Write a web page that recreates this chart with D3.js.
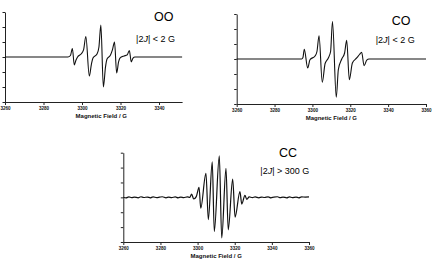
<!DOCTYPE html>
<html>
<head>
<meta charset="utf-8">
<script src="https://cdn.jsdelivr.net/npm/d3@7"></script>
<style>
  body { margin: 0; background: #fff; }
  svg { display: block; font-family: "Liberation Sans", Arial, sans-serif; }
  .axis path, .axis line { stroke: #222; stroke-width: 1; }
  .axis text { fill: #111; font-size: 4.6px; font-weight: bold; }
</style>
</head>
<body>
<div class="chart"></div>
<script>
var width = 432,
    height = 264;

// tick values
var fieldTicks = [3260, 3280, 3300, 3320, 3340, 3360];
var ampTicks = [-3, -2, -1, 0, 1, 2, 3];

var panelNames = ["OO", "CO", "CC"];
var couplingText = ["< 2 G", "< 2 G", "> 300 G"];

// spectra: field (G) and signal (arb. units)
var ooField = [3260, 3292.7, 3294.0, 3295.0, 3296.0, 3296.9, 3297.7, 3299.5, 3300.8, 3302.0,
  3303.8, 3304.9, 3305.7, 3307.8, 3308.8, 3309.8, 3311.1, 3312.2, 3313.0, 3314.8,
  3315.8, 3316.9, 3318.0, 3319.0, 3319.7, 3321.8, 3323.4, 3324.6, 3325.6, 3326.5,
  3327.5, 3352];
var ooSignal = [0, 0, 0.1, 0.57, -0.53, -0.2, 0, 0.2, 0.47, 1.37,
  -1.27, -0.47, -0.07, 0.2, 0.67, 2.13, -2.0, -0.67, -0.13, 0.13,
  0.47, 1.0, -1.07, -0.33, -0.07, 0.07, 0.13, 0.43, -0.33, -0.07,
  0, 0];

var coField = [3260, 3294.3, 3295.0, 3295.7, 3297.5, 3298.7, 3301.4, 3302.4, 3303.5, 3305.2,
  3306.7, 3308.4, 3309.6, 3310.6, 3312.6, 3313.7, 3315.5, 3317.0, 3318.1, 3319.5,
  3321.1, 3323.4, 3324.9, 3326.0, 3327.3, 3328.7, 3329.9, 3360];
var coSignal = [0, 0, 0.1, 0.65, -0.6, -0.05, 0.2, 0.5, 1.55, -1.55,
  -0.3, 0.07, 0.5, 2.5, -2.55, -0.7, 0, 0.4, 1.25, -1.38,
  -0.27, 0.07, 0.3, 0.45, -0.45, -0.07, 0, 0];

var ccField = [3260, 3261.5, 3263, 3264.5, 3266, 3268, 3269.5, 3271, 3273, 3274.5,
  3276, 3278, 3279.5, 3281, 3283, 3284.5, 3286, 3288, 3289.5, 3291,
  3292.5, 3294.5, 3295.8, 3296.8, 3297.9, 3299.3,
  3300.8, 3301.7, 3304.5, 3305.8, 3307.9, 3309.0, 3311.7, 3313.0, 3315.3, 3316.5,
  3318.9, 3320.2, 3322.8, 3323.8, 3325.5, 3326.5, 3327.8, 3329.5, 3331, 3333,
  3334.5, 3336, 3338, 3339.5, 3341, 3343, 3344.5, 3346, 3348, 3349.5,
  3351, 3353, 3354.5, 3356, 3358, 3360];
var ccSignal = [0.01, -0.03, 0.03, -0.02, 0.02, -0.03, 0.04, -0.01, 0.02, -0.03,
  0.03, -0.02, 0.01, 0.04, -0.03, 0.02, -0.02, 0.03, -0.03, 0.02,
  -0.02, 0.03, 0, 0.22, -0.11, 0.05,
  0.67, -0.73, 1.62, -1.49, 2.38, -2.29, 2.78, -2.73, 1.95, -2.18,
  1.22, -1.33, 0.38, -0.45, 0.13, -0.13, 0.03, -0.02, 0.03, -0.03,
  0.02, -0.01, 0.03, -0.03, 0.02, 0.04, -0.02, 0.02, -0.03, 0.03,
  -0.02, 0.02, -0.03, 0.03, 0.02, 0.03];

var svg = d3.select(".chart").append("svg")
    .attr("width", width)
    .attr("height", height);

var panels = [
  {field: ooField, signal: ooSignal, fmax: 3352, x0: 5, x1: 182.1, yTop: 12, yBot: 102,
   nameX: 173.5, nameY: 21, jX: 175, jY: 41.5, sw: 1.1},
  {field: coField, signal: coSignal, fmax: 3360, x0: 236.7, x1: 426, yTop: 14, yBot: 104,
   nameX: 410.5, nameY: 25, jX: 414.7, jY: 42.5, sw: 1.1},
  {field: ccField, signal: ccSignal, fmax: 3360, x0: 123.3, x1: 309, yTop: 152.7, yBot: 242,
   nameX: 297, nameY: 157, jX: 309.3, jY: 174, sw: 1.2}
];

panels.forEach(function(p, i) {
  var x = d3.scaleLinear().domain([3260, p.fmax]).range([p.x0, p.x1]);
  var y = d3.scaleLinear().domain([-3, 3]).range([p.yBot, p.yTop]);

  var g = svg.append("g");

  g.append("g")
    .attr("class", "axis")
    .attr("transform", "translate(0," + p.yBot + ")")
    .call(d3.axisBottom(x)
      .tickValues(fieldTicks.filter(function(t) { return t <= p.fmax; }))
      .tickSize(3).tickSizeOuter(0).tickPadding(1.5)
      .tickFormat(d3.format("d")));

  g.append("g")
    .attr("class", "axis")
    .attr("transform", "translate(" + p.x0 + ",0)")
    .call(d3.axisLeft(y).tickValues(ampTicks)
      .tickSize(2.5).tickSizeOuter(0).tickFormat(""));

  g.append("text")
    .attr("x", x(3310))
    .attr("y", p.yBot + 16)
    .attr("text-anchor", "middle")
    .style("font-size", "6px")
    .style("font-weight", "bold")
    .style("fill", "#111")
    .text("Magnetic Field / G");

  var pts = p.field.map(function(f, k) { return [f, p.signal[k]]; });
  var line = d3.line()
    .x(function(d) { return x(d[0]); })
    .y(function(d) { return y(d[1]); })
    .curve(d3.curveMonotoneX);

  g.append("path")
    .datum(pts)
    .attr("d", line)
    .attr("fill", "none")
    .attr("stroke", "#111")
    .attr("stroke-width", p.sw)
    .attr("stroke-linejoin", "round");

  g.append("text")
    .attr("x", p.nameX)
    .attr("y", p.nameY)
    .attr("text-anchor", "end")
    .style("font-size", "12.5px")
    .style("fill", "#000")
    .text(panelNames[i]);

  var t = g.append("text")
    .attr("x", p.jX)
    .attr("y", p.jY)
    .attr("text-anchor", "end")
    .style("font-size", "9px")
    .style("fill", "#000");
  t.append("tspan").text("|2");
  t.append("tspan").style("font-style", "italic").text("J");
  t.append("tspan").text("| " + couplingText[i]);
});
</script>
</body>
</html>
